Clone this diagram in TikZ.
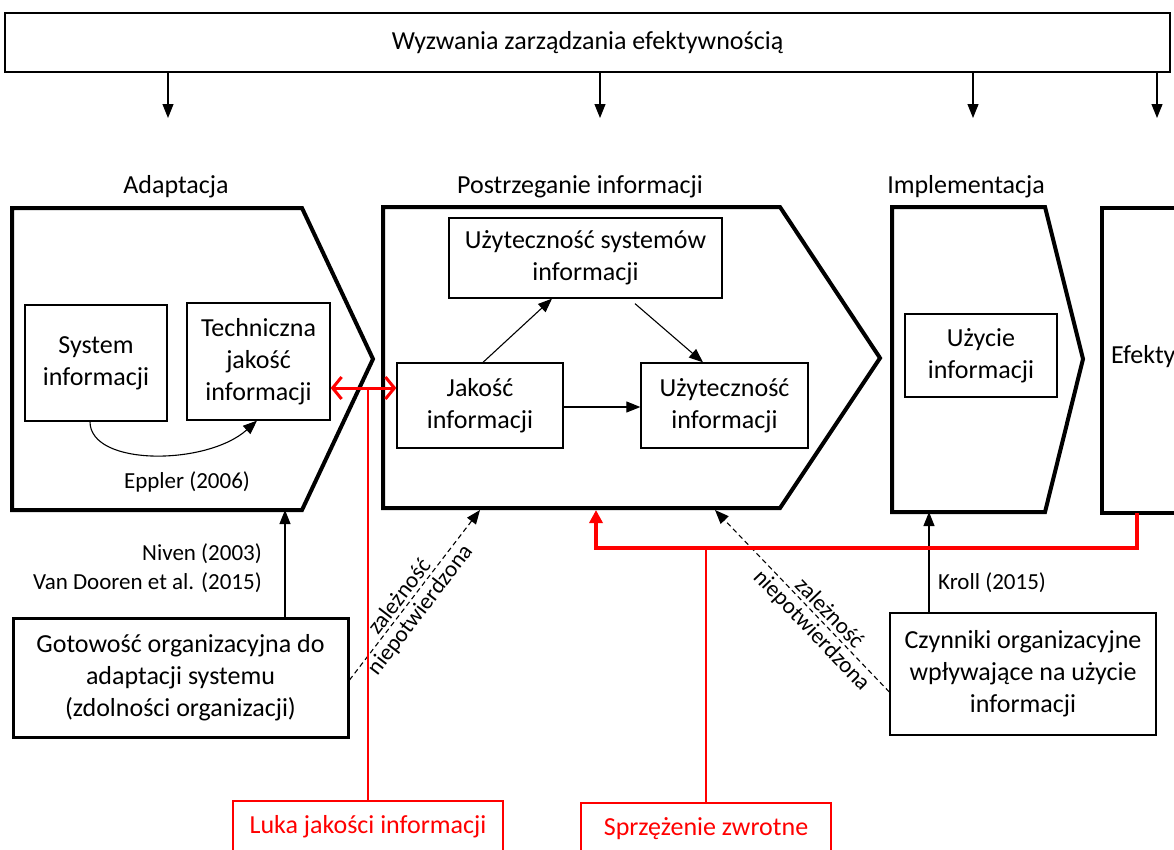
\documentclass[tikz,border=0pt]{standalone}
\usepackage{fontspec}
\setmainfont{Carlito}
\usetikzlibrary{arrows.meta,calc}
\definecolor{rd}{RGB}{255,0,0}
\begin{document}
\begin{tikzpicture}[x=1pt,y=-1pt,
  bigt/.style={font=\fontsize{26}{32}\selectfont},
  smt/.style={font=\fontsize{23}{28}\selectfont},
  inbox/.style={draw, line width=1.3pt, align=center, inner sep=0pt, bigt},
  thickbox/.style={inbox, line width=3pt},
  redbox/.style={draw=rd, text=rd, line width=1.4pt, inner sep=0pt, bigt},
  chev/.style={draw, line width=4pt, line join=miter},
  arr/.style={line width=1.1pt, -{Triangle[length=14pt,width=11pt]}},
  darr/.style={arr, dash pattern=on 5pt off 3.5pt},
  rline/.style={draw=rd, line width=1.5pt},
  rthick/.style={draw=rd, line width=3.5pt},
  lab/.style={smt, inner sep=0pt},
  rlab/.style={smt, inner sep=3.5pt, sloped}]
\useasboundingbox (0,0) rectangle (1174,849);
\clip (0,0) rectangle (1174,849);

% top box
\node[inbox, line width=1.5pt, minimum width=1165pt, minimum height=59pt] (top) at (587.5,42.5) {Wyzwania zarządzania efektywnością};
\coordinate (t1) at (168,118);
\coordinate (t2) at (600,118);
\coordinate (t3) at (973,118);
\coordinate (t4) at (1157,118);
\foreach \t in {t1,t2,t3,t4} \draw[arr] (top.south -| \t) -- (\t);

% stage headings
\node[bigt, anchor=base] (hA) at (176,193) {Adaptacja};
\node[bigt, anchor=base] (hP) at (580,193) {Postrzeganie informacji};
\node[bigt, anchor=base] (hI) at (966,193) {Implementacja};

% chevrons
\draw[chev] (12,208) -- (302,208) -- (373,359) -- (302,510) -- (12,510) -- cycle;
\draw[chev] (383,207) -- (780,207) -- (880,358) -- (780,508) -- (383,508) -- cycle;
\draw[chev] (892,207) -- (1045,207) -- (1083,359) -- (1045,512) -- (892,512) -- cycle;
\draw[chev] (1102,208) rectangle (1200,513);
\node[bigt, anchor=west, inner sep=0pt] (ef) at (1111,357) {Efektywność};

% attachment points on chevrons
\coordinate (adb) at (285,510);
\coordinate (pbl) at (480,510);
\coordinate (pbf) at (596,510);
\coordinate (pbr) at (715,510);
\coordinate (imb) at (929,512);
\coordinate (efb) at (1137,513);
\coordinate (fbl) at (596,548);
\coordinate (fbr) at (1137,548);
\coordinate (rr) at (0,388);

% Adaptacja contents
\node[inbox, minimum width=142pt, minimum height=116pt] (sys) at (96,363) {System\\informacji};
\node[inbox, minimum width=143pt, minimum height=117pt] (tech) at (258.5,361.5) {Techniczna\\jakość\\informacji};
\draw[arr] ([xshift=-6pt]sys.south) .. controls +(0,45) and +(-50,45) .. ([xshift=-1.5pt]tech.south);
\node[lab, anchor=base] (epp) at (187,488) {Eppler (2006)};

% Postrzeganie contents
\node[inbox, minimum width=273pt, minimum height=80pt] (usys) at (585.5,258) {Użyteczność systemów\\informacji};
\node[inbox, minimum width=166pt, minimum height=85pt] (jak) at (480,405.5) {Jakość\\informacji};
\node[inbox, minimum width=167pt, minimum height=85pt] (uinf) at (724.5,405.5) {Użyteczność\\informacji};
\draw[arr] ([xshift=3pt]jak.north) -- ([xshift=-33.5pt]usys.south);
\draw[arr] ([xshift=49.5pt,yshift=-5pt]usys.south) -- ([xshift=-21.5pt]uinf.north);
\draw[arr] ([yshift=-1.5pt]jak.east) -- ([yshift=-1.5pt]uinf.west);

% Implementacja contents
\node[inbox, minimum width=152pt, minimum height=83pt] (uzy) at (981,355.5) {Użycie\\informacji};

% red double arrow (quality gap)
\draw[rthick, line width=3pt, {Straight Barb[length=9pt,width=22pt]}-{Straight Barb[length=9pt,width=22pt]}] (tech.east |- rr) -- (jak.west |- rr);

% bottom boxes
\node[thickbox, minimum width=335pt, minimum height=119pt] (got) at (180.5,677.5) {Gotowość organizacyjna do\\adaptacji systemu\\(zdolności organizacji)};
\node[inbox, minimum width=266pt, minimum height=122pt] (czy) at (1023,674) {Czynniki organizacyjne\\wpływające na użycie\\informacji};

% influences
\draw[arr] (got.north -| adb) -- (adb);
\node[lab, anchor=base east] (niv) at (262,560) {Niven (2003)};
\node[lab, anchor=base east] (vdo) at (262,589) {Van Dooren et al. (2015)};

\draw[arr] (czy.north -| imb) -- (imb);
\node[lab, anchor=base west] (kro) at (938,589) {Kroll (2015)};

\draw[darr] ([yshift=-2.5pt]got.east) -- node[rlab, pos=0.45, above] {zależność} node[rlab, pos=0.46, below] {niepotwierdzona} (pbl);
\draw[darr] ([yshift=-18pt]czy.west) -- node[rlab, pos=0.39, above] {zależność} node[rlab, pos=0.39, below] {niepotwierdzona} (pbr);

% feedback loop
\draw[rthick, -{Triangle[length=13pt,width=13pt]}] (efb) -- (fbr) -- (fbl) -- (pbf);

% red annotation boxes
\node[redbox, minimum width=270pt, minimum height=52pt] (luka) at (368,827) {Luka jakości informacji};
\node[redbox, minimum width=250pt, minimum height=52pt] (sprz) at (706,829) {Sprzężenie zwrotne};
\draw[rline] (luka.north) -- (luka.north |- rr);
\draw[rline] (sprz.north) -- (sprz.north |- fbl);
\end{tikzpicture}
\end{document}
